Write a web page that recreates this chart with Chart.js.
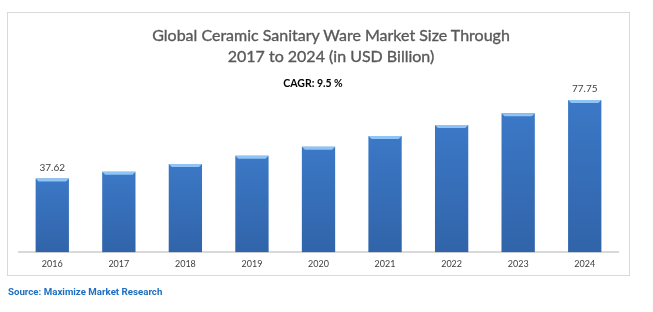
<!DOCTYPE html>
<html>
<head>
<meta charset="utf-8">
<script src="https://cdn.jsdelivr.net/npm/chart.js@4.4.1/dist/chart.umd.min.js"></script>
<style>
  body { margin: 0; background: #fff; }
  #wrap { position: relative; width: 653px; height: 312px; overflow: hidden; }
  #box { position: absolute; left: 7px; top: 12px; width: 621px; height: 262px; border: 1px solid #d9d9d9; }
  #chart { position: absolute; left: 0; top: 0; }
  .title { position: absolute; left: 0; width: 662px; text-align: center; font-family: Lato, sans-serif; font-size: 16px; color: #595959; line-height: 21px; -webkit-text-stroke: 0.35px #595959; }
  #cagr { position: absolute; left: 0; width: 626px; text-align: center; top: 77px; font-family: Lato, sans-serif; font-size: 10.5px; font-weight: bold; color: #000; }
  #source { position: absolute; left: 8px; top: 286px; font-family: Roboto, sans-serif; font-size: 9.7px; font-weight: bold; color: #1f6fc0; }
</style>
</head>
<body>
<div id="wrap">
  <div id="box"></div>
  <canvas id="chart" width="653" height="312"></canvas>
  <div class="title" style="top:24px">Global Ceramic Sanitary Ware Market Size Through<br>2017 to 2024 (in USD Billion)</div>
  <div id="cagr">CAGR: 9.5 %</div>
  <div id="source">Source: Maximize Market Research</div>
</div>
<script>
// ---------------------------- data ----------------------------
const years = ["2016", "2017", "2018", "2019", "2020", "2021", "2022", "2023", "2024"];
const marketSize = [37.62, 41.1, 45.1, 49.3, 53.9, 59.3, 65.0, 71.0, 77.75];
const labeledBars = [0, 8];

// gradient across each bar, darker at the edges like the excel bevel
function barFill(context) {
  const chart = context.chart;
  const meta = chart.getDatasetMeta(context.datasetIndex);
  const bar = meta.data[context.dataIndex];
  if (!bar || !chart.chartArea || isNaN(bar.x)) return "#3b78c6";
  const w = bar.width || 33;
  const g = chart.ctx.createLinearGradient(bar.x - w / 2, 0, bar.x + w / 2, 0);
  g.addColorStop(0, "#2b5797");
  g.addColorStop(0.12, "#3b77c4");
  g.addColorStop(0.5, "#3f80d0");
  g.addColorStop(0.88, "#3a74c0");
  g.addColorStop(1, "#264f8c");
  return g;
}

const bevelPlugin = {
  id: "bevel",
  afterDatasetsDraw(chart) {
    const ctx = chart.ctx;
    chart.getDatasetMeta(0).data.forEach((bar, i) => {
      const w = bar.width, l = bar.x - w / 2, r = bar.x + w / 2;
      ctx.save();
      // darker towards the bottom
      const v = ctx.createLinearGradient(0, bar.y, 0, bar.base);
      v.addColorStop(0, "rgba(0,10,40,0)");
      v.addColorStop(1, "rgba(0,10,40,0.18)");
      ctx.fillStyle = v;
      ctx.fillRect(l, bar.y, w, bar.base - bar.y);
      // light top edge
      ctx.fillStyle = "#8fc4f7";
      ctx.beginPath();
      ctx.moveTo(l, bar.y);
      ctx.lineTo(r, bar.y);
      ctx.lineTo(r - 3, bar.y + 3);
      ctx.lineTo(l + 3, bar.y + 3);
      ctx.closePath();
      ctx.fill();
      // value labels on first and last bar
      if (labeledBars.includes(i)) {
        ctx.fillStyle = "#404040";
        ctx.font = "10px Lato, sans-serif";
        ctx.textAlign = "center";
        ctx.textBaseline = "middle";
        ctx.fillText(marketSize[i].toFixed(2), bar.x, bar.y - 11);
      }
      ctx.restore();
    });
  }
};

new Chart(document.getElementById("chart"), {
  type: "bar",
  data: {
    labels: years,
    datasets: [{
      data: marketSize,
      backgroundColor: barFill,
      borderWidth: 0,
      categoryPercentage: 1,
      barPercentage: 0.5
    }]
  },
  plugins: [bevelPlugin],
  options: {
    responsive: false,
    animation: false,
    layout: { padding: { left: 19, right: 35, top: 76, bottom: 37 } },
    plugins: { legend: { display: false }, tooltip: { enabled: false } },
    scales: {
      y: { display: false, min: 0, max: 90 },
      x: {
        grid: { display: false, drawTicks: false },
        border: { color: "#d9d9d9", width: 2 },
        ticks: { color: "#404040", font: { family: "Lato", size: 9 }, padding: 6 }
      }
    }
  }
});
</script>
</body>
</html>
